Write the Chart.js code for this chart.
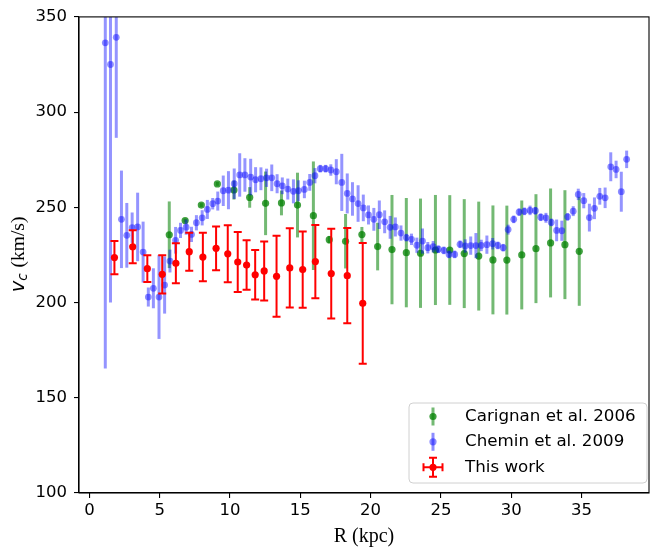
<!DOCTYPE html>
<html>
<head>
<meta charset="utf-8">
<script src="https://cdn.jsdelivr.net/npm/chart.js@4.4.1/dist/chart.umd.min.js"></script>
<style>
  html, body { margin: 0; padding: 0; background: #fff; }
  #wrap { width: 653px; height: 548px; }
</style>
</head>
<body>
<div id="wrap"><canvas id="chart" width="653" height="548"></canvas></div>
<script>
// This work
const work_R = [1.78, 3.08, 4.12, 5.18, 6.15, 7.10, 8.07, 9.01, 9.84, 10.55, 11.18, 11.79, 12.43, 13.31, 14.25, 15.17, 16.07, 17.20, 18.34, 19.44];
const work_V = [223.6, 229.3, 217.8, 214.8, 220.6, 226.7, 223.9, 228.5, 225.6, 221.3, 219.7, 214.6, 216.6, 213.8, 218.2, 217.3, 221.5, 215.2, 214.1, 199.6];
const work_Err = [8.7, 8.7, 7, 10, 10.5, 10, 12.7, 11.5, 15, 15.8, 13, 13, 15.5, 21.3, 20.8, 20, 19.2, 23.6, 25, 31.7];

// Carignan et al. 2006
const carignan_R = [5.68, 6.81, 7.96, 9.10, 10.28, 11.40, 12.53, 13.66, 14.80, 15.93, 17.06, 18.22, 19.38, 20.50, 21.52, 22.54, 23.55, 24.61, 25.63, 26.66, 27.69, 28.70, 29.69, 30.75, 31.76, 32.80, 33.82, 34.84];
const carignan_V = [235.6, 243.1, 251.2, 262.3, 259.1, 255.2, 252.1, 252.3, 251.2, 245.6, 233.0, 232.2, 235.7, 229.4, 227.8, 226.2, 225.9, 227.6, 227.6, 225.7, 224.4, 222.4, 222.3, 225.0, 228.3, 231.3, 230.4, 226.9];
const carignan_Err = [17.5, 1, 1, 1, 5, 5.4, 16.7, 6.5, 17, 28.5, 2, 14.3, 4, 12.5, 28.7, 28.7, 28.7, 28.9, 28.8, 28.6, 28.6, 28.6, 28.6, 28.6, 28.6, 28.6, 28.6, 28.6];

// Chemin et al. 2009
const chemin_R = [1.13, 1.50, 1.91, 2.28, 2.66, 3.04, 3.43, 3.82, 4.19, 4.55, 4.95, 5.35, 5.73, 6.13, 6.48, 6.88, 7.26, 7.61, 8.02, 8.39, 8.77, 9.13, 9.52, 9.89, 10.30, 10.69, 11.06, 11.47, 11.82, 12.20, 12.60, 12.97, 13.35, 13.72, 14.11, 14.51, 14.86, 15.29, 15.67, 16.04, 16.42, 16.80, 17.17, 17.56, 17.95, 18.34, 18.71, 19.11, 19.48, 19.85, 20.23, 20.62, 21.00, 21.39, 21.76, 22.16, 22.54, 22.91, 23.29, 23.69, 24.07, 24.45, 24.82, 25.21, 25.58, 25.98, 26.36, 26.73, 27.12, 27.49, 27.87, 28.27, 28.68, 29.05, 29.43, 29.78, 30.18, 30.56, 30.94, 31.34, 31.72, 32.10, 32.47, 32.85, 33.23, 33.60, 34.01, 34.41, 34.77, 35.16, 35.56, 35.92, 36.30, 36.68, 37.08, 37.46, 37.83, 38.21];
const chemin_V = [336.4, 325.0, 339.3, 243.7, 235.3, 239.3, 239.7, 226.5, 202.9, 207.5, 202.9, 209.2, 221.8, 232.7, 237.9, 239.6, 235.8, 241.9, 244.5, 248.9, 251.9, 253.3, 258.7, 259.0, 262.4, 267.0, 267.0, 265.9, 264.5, 265.0, 265.5, 265.5, 262.4, 261.3, 259.6, 258.4, 258.7, 259.4, 263.1, 266.6, 270.3, 270.3, 269.6, 268.7, 263.1, 257.3, 254.4, 252.0, 249.7, 246.0, 243.7, 246.1, 242.4, 239.5, 239.7, 236.5, 234.1, 233.2, 230.1, 232.3, 228.8, 229.3, 228.0, 227.4, 225.3, 225.3, 230.6, 229.7, 229.9, 229.9, 230.0, 230.4, 230.9, 230.0, 228.8, 238.3, 243.7, 247.5, 247.9, 248.4, 248.2, 244.8, 244.5, 242.1, 237.9, 237.7, 245.0, 248.0, 256.8, 253.5, 244.6, 249.5, 255.8, 255.0, 271.3, 269.9, 258.2, 275.2];
const chemin_Err = [171, 125, 52.8, 25.6, 17, 8, 18, 16, 5, 10.5, 22, 15, 6, 7, 4, 4, 4, 4, 4, 5, 3, 5, 8, 10, 8, 11.4, 8.8, 9.6, 6.6, 6, 4.8, 7, 5, 4.4, 5.5, 6.3, 5.5, 4.6, 4.4, 4, 2, 2, 3, 6.6, 15, 10.5, 8.8, 9.6, 7, 5, 6, 7.5, 6, 6, 5, 4, 2, 3, 4, 6.6, 3, 3, 2, 2, 2, 2, 2, 3.5, 4.8, 6.6, 3, 4.8, 3, 2, 2, 2.6, 2, 2, 2, 2.5, 2, 2, 2.6, 2, 5.7, 5.3, 2, 2.6, 3, 4, 7.3, 5.7, 4.4, 5.4, 7.6, 4.6, 10.5, 4.6];

const x_Ticks = [0, 5, 10, 15, 20, 25, 30, 35];
const y_Ticks = [100, 150, 200, 250, 300, 350];

const tick_Font = { family: "DejaVu Sans", size: 16.5 };

function to_Points(xs, ys) {
  return xs.map((x, i) => ({ x: x, y: ys[i] }));
}

// error bars drawn right before each dataset's markers
const errorBars = {
  id: "errorBars",
  beforeDatasetDraw(chart, args) {
    const ds = chart.data.datasets[args.index];
    if (!ds.yErr) return;
    const ctx = chart.ctx;
    const xs = chart.scales.x;
    const ys = chart.scales.y;
    const area = chart.chartArea;
    ctx.save();
    ctx.beginPath();
    ctx.rect(area.left, area.top, area.right - area.left, area.bottom - area.top);
    ctx.clip();
    ctx.strokeStyle = ds.errColor;
    ctx.lineWidth = ds.errWidth;
    ds.data.forEach((p, i) => {
      const px = xs.getPixelForValue(p.x);
      const top = ys.getPixelForValue(p.y + ds.yErr[i]);
      const bot = ys.getPixelForValue(p.y - ds.yErr[i]);
      ctx.beginPath();
      ctx.moveTo(px, top);
      ctx.lineTo(px, bot);
      if (ds.capSize) {
        ctx.moveTo(px - ds.capSize, top);
        ctx.lineTo(px + ds.capSize, top);
        ctx.moveTo(px - ds.capSize, bot);
        ctx.lineTo(px + ds.capSize, bot);
      }
      ctx.stroke();
    });
    ctx.restore();
  },
};

// frame, axis titles and legend
const decorations = {
  id: "decorations",
  afterDraw(chart) {
    const ctx = chart.ctx;
    const a = chart.chartArea;
    ctx.save();
    ctx.strokeStyle = "#000";
    ctx.lineWidth = 1.1;
    ctx.strokeRect(a.left, a.top, a.right - a.left, a.bottom - a.top);

    // x title
    ctx.fillStyle = "#000";
    ctx.font = "20px 'Liberation Serif'";
    ctx.textAlign = "center";
    ctx.textBaseline = "middle";
    ctx.fillText("R (kpc)", (a.left + a.right) / 2, 537);

    // y title: v_c (km/s)
    ctx.save();
    ctx.translate(24, (a.top + a.bottom) / 2);
    ctx.rotate(-Math.PI / 2);
    ctx.textBaseline = "alphabetic";
    ctx.textAlign = "left";
    ctx.font = "italic 19.5px 'DejaVu Sans'";
    const wv = ctx.measureText("v").width;
    ctx.font = "italic 13.5px 'DejaVu Sans'";
    const wc = ctx.measureText("c").width;
    ctx.font = "19.5px 'Liberation Serif'";
    const wu = ctx.measureText(" (km/s)").width;
    let x0 = -(wv + wc + wu) / 2;
    ctx.font = "italic 19.5px 'DejaVu Sans'";
    ctx.fillText("v", x0, 0);
    ctx.font = "italic 13.5px 'DejaVu Sans'";
    ctx.fillText("c", x0 + wv, 3);
    ctx.font = "19.5px 'Liberation Serif'";
    ctx.fillText(" (km/s)", x0 + wv + wc + 1, 0);
    ctx.restore();

    // legend
    const lx = 409, ly = 403, lw = 238, lh = 80, r = 4;
    ctx.beginPath();
    ctx.moveTo(lx + r, ly);
    ctx.arcTo(lx + lw, ly, lx + lw, ly + lh, r);
    ctx.arcTo(lx + lw, ly + lh, lx, ly + lh, r);
    ctx.arcTo(lx, ly + lh, lx, ly, r);
    ctx.arcTo(lx, ly, lx + lw, ly, r);
    ctx.closePath();
    ctx.fillStyle = "rgba(255,255,255,0.8)";
    ctx.fill();
    ctx.strokeStyle = "#d0d0d0";
    ctx.lineWidth = 1;
    ctx.stroke();

    const hx = 433;
    const rows = [416.5, 441.8, 467.3];
    const labels = ["Carignan et al. 2006", "Chemin et al. 2009", "This work"];
    // green handle
    ctx.strokeStyle = "rgba(0,128,0,0.55)";
    ctx.lineWidth = 3;
    ctx.beginPath(); ctx.moveTo(hx, rows[0] - 9); ctx.lineTo(hx, rows[0] + 9); ctx.stroke();
    ctx.fillStyle = "rgba(0,128,0,0.75)";
    ctx.beginPath(); ctx.arc(hx, rows[0], 3.6, 0, Math.PI * 2); ctx.fill();
    // blue handle
    ctx.strokeStyle = "rgba(0,0,255,0.45)";
    ctx.beginPath(); ctx.moveTo(hx, rows[1] - 9); ctx.lineTo(hx, rows[1] + 9); ctx.stroke();
    ctx.fillStyle = "rgba(0,0,255,0.45)";
    ctx.beginPath(); ctx.arc(hx, rows[1], 3.6, 0, Math.PI * 2); ctx.fill();
    // red handle
    ctx.strokeStyle = "#ff0000";
    ctx.lineWidth = 2;
    const y2 = rows[2];
    ctx.beginPath();
    ctx.moveTo(hx - 9.5, y2); ctx.lineTo(hx + 9.5, y2);
    ctx.moveTo(hx - 9.5, y2 - 4); ctx.lineTo(hx - 9.5, y2 + 4);
    ctx.moveTo(hx + 9.5, y2 - 4); ctx.lineTo(hx + 9.5, y2 + 4);
    ctx.moveTo(hx, y2 - 9.5); ctx.lineTo(hx, y2 + 9.5);
    ctx.moveTo(hx - 4, y2 - 9.5); ctx.lineTo(hx + 4, y2 - 9.5);
    ctx.moveTo(hx - 4, y2 + 9.5); ctx.lineTo(hx + 4, y2 + 9.5);
    ctx.stroke();
    ctx.fillStyle = "#ff0000";
    ctx.beginPath(); ctx.arc(hx, y2, 3.6, 0, Math.PI * 2); ctx.fill();

    ctx.fillStyle = "#000";
    ctx.font = "16.7px 'DejaVu Sans'";
    ctx.textAlign = "left";
    ctx.textBaseline = "middle";
    labels.forEach((t, i) => ctx.fillText(t, 465, rows[i]));
    ctx.restore();
  },
};

const grafica = new Chart(document.getElementById("chart"), {
  type: "scatter",
  data: {
    datasets: [
      {
        label: "This work",
        data: to_Points(work_R, work_V),
        yErr: work_Err,
        errColor: "#ff0000",
        errWidth: 2,
        capSize: 4,
        pointRadius: 3.6,
        pointBorderWidth: 0,
        pointBackgroundColor: "#ff0000",
      },
      {
        label: "Chemin et al. 2009",
        data: to_Points(chemin_R, chemin_V),
        yErr: chemin_Err,
        errColor: "rgba(0,0,255,0.42)",
        errWidth: 3,
        capSize: 0,
        pointRadius: 3.4,
        pointBorderWidth: 0,
        pointBackgroundColor: "rgba(0,0,255,0.45)",
      },
      {
        label: "Carignan et al. 2006",
        data: to_Points(carignan_R, carignan_V),
        yErr: carignan_Err,
        errColor: "rgba(0,128,0,0.55)",
        errWidth: 3,
        capSize: 0,
        pointRadius: 3.6,
        pointBorderWidth: 0,
        pointBackgroundColor: "rgba(0,128,0,0.75)",
      },
    ],
  },
  options: {
    responsive: false,
    animation: false,
    events: [],
    layout: { padding: { top: 15, right: 1, left: 0, bottom: 0 } },
    plugins: {
      legend: { display: false },
      tooltip: { enabled: false },
    },
    scales: {
      x: {
        type: "linear",
        min: -0.74,
        max: 39.8,
        afterBuildTicks: (s) => { s.ticks = x_Ticks.map((v) => ({ value: v })); },
        afterFit: (s) => { s.height = 55; },
        grid: { drawOnChartArea: false, drawTicks: true, tickLength: 5, color: "#000", lineWidth: 1.1 },
        border: { display: true, color: "#000", width: 1.1 },
        ticks: { font: tick_Font, color: "#000", padding: 3, maxRotation: 0 },
      },
      y: {
        type: "linear",
        min: 100,
        max: 350,
        afterBuildTicks: (s) => { s.ticks = y_Ticks.map((v) => ({ value: v })); },
        afterFit: (s) => { s.width = 79; },
        grid: { drawOnChartArea: false, drawTicks: true, tickLength: 5, color: "#000", lineWidth: 1.1 },
        border: { display: true, color: "#000", width: 1.1 },
        ticks: { font: tick_Font, color: "#000", padding: 7 },
      },
    },
  },
  plugins: [errorBars, decorations],
});
</script>
</body>
</html>
